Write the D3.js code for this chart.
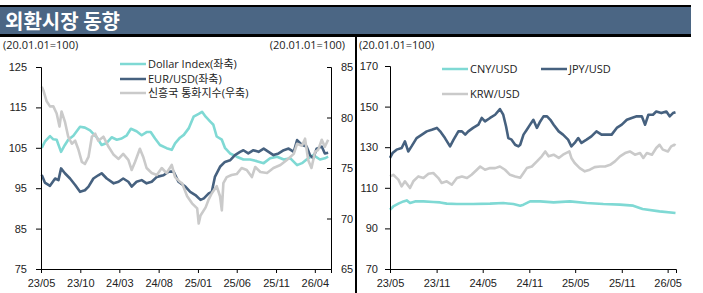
<!DOCTYPE html>
<html>
<head>
<meta charset="utf-8">
<script src="https://cdn.jsdelivr.net/npm/d3@7"></script>
<style>
  body { margin: 0; background: #fff; }
  svg { display: block; font-family: "Open Sans", "Noto Sans CJK KR", sans-serif; }
  .tick text { font-size: 11px; fill: #222; }
  .note { font-size: 11px; fill: #222; }
  .legend { font-size: 11px; fill: #222; }
</style>
</head>
<body>
<svg id="chart" width="703" height="293"></svg>
<script>
// left panel (left axis: Dollar Index, EUR/USD; right axis: EM currency index)
const dollarIndex = [["2023-05-04",105],["2023-05-16",106.5],["2023-06-05",107.9],["2023-06-18",107.1],["2023-07-01",107],["2023-07-18",104],["2023-08-02",105.7],["2023-08-15",107],["2023-09-04",108],["2023-09-30",110.2],["2023-10-19",110],["2023-11-08",109.3],["2023-12-04",107.6],["2023-12-23",105.7],["2024-01-12",106.2],["2024-01-31",107.6],["2024-02-20",107],["2024-03-10",107.3],["2024-03-30",108.1],["2024-04-15",109.7],["2024-05-07",109.1],["2024-05-27",108.1],["2024-06-15",108.9],["2024-07-01",108.9],["2024-07-18",107.3],["2024-08-06",105.7],["2024-09-01",104.9],["2024-09-21",104.5],["2024-10-04",106.1],["2024-10-23",107.5],["2024-11-07",108.2],["2024-11-26",109.8],["2024-12-15",112.7],["2025-01-04",113.4],["2025-01-17",113.9],["2025-01-31",112.7],["2025-02-18",111.5],["2025-03-02",110.7],["2025-03-15",107.8],["2025-04-04",107],["2025-04-16",105],["2025-05-06",103.6],["2025-06-01",102.8],["2025-06-27",102.1],["2025-07-23",102.1],["2025-08-18",101.7],["2025-09-14",101.2],["2025-10-09",102.4],["2025-11-05",102.8],["2025-12-01",102.1],["2025-12-27",102.4],["2026-01-22",100.7],["2026-02-10",101.2],["2026-02-28",102.1],["2026-03-26",103.2],["2026-04-21",102.1],["2026-05-10",102.4],["2026-05-23",102.8]];
const eurUsd = [["2023-05-04",98.3],["2023-05-16",96.4],["2023-06-05",95.6],["2023-06-25",97.4],["2023-07-08",97.0],["2023-07-18",99.9],["2023-08-02",98.7],["2023-08-22",97.4],["2023-09-11",95.8],["2023-09-30",94.1],["2023-10-19",94.5],["2023-11-02",95.4],["2023-11-21",97.4],["2023-12-10",98.2],["2023-12-23",98.7],["2024-01-12",97.4],["2024-02-08",96.2],["2024-02-27",96.6],["2024-03-16",97.4],["2024-04-05",96.6],["2024-04-18",95.4],["2024-05-07",96.6],["2024-05-27",97],["2024-06-15",96.2],["2024-07-05",96.6],["2024-07-25",97.8],["2024-08-20",98.2],["2024-09-09",99.1],["2024-09-28",99.1],["2024-10-17",96.6],["2024-11-13",95.4],["2024-12-02",94.1],["2024-12-22",93.3],["2025-01-11",92.1],["2025-01-24",92.5],["2025-02-12",93.7],["2025-02-24",94.1],["2025-03-08",97.8],["2025-03-28",100.3],["2025-04-16",101.5],["2025-05-06",101.9],["2025-05-25",103.2],["2025-06-14",104],["2025-06-27",104.4],["2025-07-16",103.6],["2025-08-05",104.4],["2025-08-25",104],["2025-09-14",104.8],["2025-10-03",104],["2025-10-22",103.2],["2025-11-11",103.6],["2025-12-01",104.4],["2025-12-20",104.8],["2026-01-09",104],["2026-01-22",106.9],["2026-02-10",105.7],["2026-02-28",105.3],["2026-03-13",103.2],["2026-03-26",102.4],["2026-04-08",104.8],["2026-04-28",105.3],["2026-05-10",103.6],["2026-05-23",103.8]];
const emCurrency = [["2023-05-04",83.05],["2023-05-10",82.7],["2023-05-23",81.6],["2023-06-05",81.1],["2023-06-18",81.1],["2023-07-01",80.4],["2023-07-12",79.1],["2023-07-20",80.6],["2023-08-02",79.6],["2023-08-15",78.1],["2023-08-29",77.4],["2023-09-11",77.7],["2023-09-24",76.8],["2023-10-07",75.6],["2023-10-19",75.4],["2023-11-02",76.1],["2023-11-15",78.1],["2023-11-28",78.4],["2023-12-10",77.7],["2023-12-30",78.1],["2024-01-19",77.1],["2024-02-08",76.3],["2024-02-27",75.9],["2024-03-16",76.4],["2024-04-05",75.8],["2024-04-18",74.8],["2024-05-01",75.6],["2024-05-20",76.9],["2024-06-02",76.1],["2024-06-15",75.0],["2024-07-05",74.5],["2024-07-25",74.3],["2024-08-13",75],["2024-09-01",74.5],["2024-09-21",75.3],["2024-10-04",74.1],["2024-10-24",73.6],["2024-10-31",73.5],["2024-11-20",72.2],["2024-12-09",71.5],["2024-12-29",71.0],["2025-01-04",69.5],["2025-01-11",70.3],["2025-01-31",71.1],["2025-02-12",71.9],["2025-02-24",72.5],["2025-03-15",73.2],["2025-03-28",72.2],["2025-04-04",70.8],["2025-04-10",73.5],["2025-04-23",74.1],["2025-05-12",74.3],["2025-06-01",74.4],["2025-06-20",75],["2025-07-10",74.8],["2025-07-30",74.1],["2025-08-12",75.1],["2025-09-01",74.6],["2025-09-27",74.5],["2025-10-22",75],["2025-11-18",75.3],["2025-12-13",75.8],["2026-01-09",76.4],["2026-01-22",77.4],["2026-02-10",77.2],["2026-02-22",77.9],["2026-03-06",75.8],["2026-03-19",75],["2026-04-02",76.6],["2026-04-14",76.8],["2026-04-28",77.8],["2026-05-10",77.1],["2026-05-23",77.8]];

// right panel
const cnyUsd = [["2023-05-01",99.2],["2023-05-14",100.8],["2023-06-03",102.2],["2023-06-23",103.3],["2023-07-06",103.8],["2023-07-19",102.5],["2023-08-08",103.3],["2023-09-10",103.3],["2023-10-19",103],["2023-11-15",102.8],["2023-12-11",102.2],["2024-01-20",102.0],["2024-03-24",102.0],["2024-05-30",102.2],["2024-07-21",102.5],["2024-08-30",102.0],["2024-09-26",101.2],["2024-10-09",101.7],["2024-11-04",103.3],["2024-12-14",103.3],["2025-02-05",102.8],["2025-04-10",103.3],["2025-06-15",102.5],["2025-08-20",102.0],["2025-10-25",101.7],["2025-12-16",101.2],["2026-01-22",99.6],["2026-03-30",98.4],["2026-06-01",97.6]];
const jpyUsd = [["2023-05-01",124.7],["2023-05-11",127.1],["2023-05-27",128.8],["2023-06-16",129.6],["2023-06-29",132.9],["2023-07-12",127.9],["2023-07-25",130.4],["2023-08-14",134.5],["2023-09-04",136.2],["2023-09-23",137.8],["2023-10-13",138.6],["2023-11-02",139.5],["2023-11-15",137.8],["2023-12-04",134.5],["2023-12-24",130.4],["2024-01-07",133.7],["2024-01-26",137.8],["2024-02-09",137.8],["2024-02-22",136.2],["2024-03-05",137.8],["2024-03-24",139.5],["2024-04-14",141.1],["2024-04-27",144.4],["2024-05-10",142.7],["2024-05-30",144.4],["2024-06-19",146.0],["2024-07-08",148.8],["2024-07-21",146],["2024-08-01",140.3],["2024-08-10",134.5],["2024-08-23",133.7],["2024-09-06",131.2],["2024-09-19",130.4],["2024-09-26",131.2],["2024-10-09",136.2],["2024-10-22",138.6],["2024-11-04",141.1],["2024-11-17",143.5],["2024-12-01",139.5],["2024-12-14",142.7],["2024-12-27",145.2],["2025-01-10",145.2],["2025-01-23",143.5],["2025-02-05",141.1],["2025-02-25",137.8],["2025-03-14",136.2],["2025-04-03",133.7],["2025-04-16",130.4],["2025-04-29",132.1],["2025-05-13",134.5],["2025-05-26",132.1],["2025-06-15",133.7],["2025-07-04",135.3],["2025-07-24",137.8],["2025-08-13",136.2],["2025-09-03",136.2],["2025-09-22",136.2],["2025-10-12",139.5],["2025-11-01",141.1],["2025-11-21",143.5],["2025-12-10",144.4],["2025-12-30",145.2],["2026-01-19",145.2],["2026-02-01",141.1],["2026-02-14",146.0],["2026-03-04",146],["2026-03-17",147.6],["2026-04-06",146.8],["2026-04-26",147.6],["2026-05-09",145.2],["2026-05-22",146.8],["2026-06-01",147.2]];
const krwUsd = [["2023-05-01",115.6],["2023-05-14",116.4],["2023-06-03",114.0],["2023-06-16",110.7],["2023-06-29",113.2],["2023-07-19",109.9],["2023-08-01",113.2],["2023-08-21",115.6],["2023-09-10",114.8],["2023-09-30",116.9],["2023-10-19",117.3],["2023-11-08",114.8],["2023-11-21",112.4],["2023-12-11",113.2],["2023-12-31",111.5],["2024-01-20",114.8],["2024-02-09",115.6],["2024-02-29",114.8],["2024-03-18",116.4],["2024-04-08",118.9],["2024-04-21",120.5],["2024-05-10",118.9],["2024-05-30",119.7],["2024-06-19",119.7],["2024-07-08",120.5],["2024-07-28",118.9],["2024-08-17",116.4],["2024-09-06",115.6],["2024-09-26",115.0],["2024-10-09",117.3],["2024-10-22",119.7],["2024-11-11",120.5],["2024-12-01",123.0],["2024-12-20",125.5],["2025-01-03",127.9],["2025-01-16",125.5],["2025-02-05",126.3],["2025-02-25",124.7],["2025-03-14",126.3],["2025-04-08",127.9],["2025-04-16",124.7],["2025-04-29",122.2],["2025-05-19",119.7],["2025-06-08",118.1],["2025-06-28",118.9],["2025-07-17",120.2],["2025-08-07",120.5],["2025-08-27",120.5],["2025-09-16",121.3],["2025-10-05",123.0],["2025-10-25",125.5],["2025-11-14",127.1],["2025-12-03",127.9],["2025-12-23",126.3],["2026-01-12",127.1],["2026-01-25",124.7],["2026-02-08",127.1],["2026-02-28",126.3],["2026-03-17",129.6],["2026-03-30",131.2],["2026-04-12",128.8],["2026-05-02",127.9],["2026-05-15",130.4],["2026-05-28",131.2],["2026-06-01",130.8]];

// ticks
const leftDateTicks = ["2023-05-01","2023-10-01","2024-03-01","2024-08-01","2025-01-01","2025-06-01","2025-11-01","2026-04-01"];
const rightDateTicks = ["2023-05-01","2023-11-01","2024-05-01","2024-11-01","2025-05-01","2025-11-01","2026-05-01"];
const leftYTicks = [75, 85, 95, 105, 115, 125];
const leftY2Ticks = [65, 70, 75, 80, 85];
const rightYTicks = [70, 90, 110, 130, 150, 170];
const dateDomain = ["2023-05-01", "2026-06-03"];

const parse = d3.timeParse("%Y-%m-%d");
const fmt = d3.timeFormat("%y/%m");

const C_TEAL = "#7fd9d4";
const C_NAVY = "#46617f";
const C_GRAY = "#cacaca";

const svg = d3.select('#chart');

// title bar
svg.append('rect').attr('x', 0).attr('y', 5).attr('width', 691).attr('height', 32).attr('fill', '#000');
svg.append('rect').attr('x', 0).attr('y', 7).attr('width', 691).attr('height', 27).attr('fill', '#4b6684');
svg.append('text')
    .attr('x', 5).attr('y', 29)
    .attr('fill', '#fff')
    .style('font-size', '20px')
    .style('font-weight', 'bold')
    .style('font-family', '"Noto Sans CJK KR", sans-serif')
    .text('외환시장 동향');

// separator
svg.append('rect').attr('x', 355).attr('y', 35).attr('width', 2).attr('height', 258).attr('fill', '#000');

// notes
svg.append('text').attr('class', 'note').attr('x', 3).attr('y', 49).text('(20.01.01=100)');
svg.append('text').attr('class', 'note').attr('x', 345).attr('y', 49).attr('text-anchor', 'end').text('(20.01.01=100)');
svg.append('text').attr('class', 'note').attr('x', 359).attr('y', 49).text('(20.01.01=100)');

function toPts(arr) {
    return arr.map(d => ({ date: parse(d[0]), value: d[1] }));
}

function styleAxis(g) {
    g.selectAll('.domain').attr('stroke', '#000');
    g.selectAll('.tick line').attr('stroke', '#000');
    g.selectAll('text').style('font-size', '11px').attr('fill', '#222');
}

function drawLine(g, arr, x, y, color) {
    const line = d3.line().x(d => x(d.date)).y(d => y(d.value));
    g.append('path')
        .datum(toPts(arr))
        .attr('fill', 'none')
        .attr('stroke', color)
        .attr('stroke-width', 2.6)
        .attr('stroke-linejoin', 'round')
        .attr('d', line);
}

function drawLegend(items) {
    items.forEach(it => {
        svg.append('line')
            .attr('x1', it.x).attr('x2', it.x + 26)
            .attr('y1', it.y).attr('y2', it.y)
            .attr('stroke', it.color).attr('stroke-width', 2.5);
        svg.append('text').attr('class', 'legend')
            .attr('x', it.x + 28).attr('y', it.y + 4)
            .text(it.label);
    });
}

function draw_left() {
    const x = d3.scaleTime().domain(dateDomain.map(parse)).range([41, 331]);
    const y = d3.scaleLinear().domain([75, 125]).range([269, 67]);
    const y2 = d3.scaleLinear().domain([65, 85]).range([269, 67]);
    const g = svg.append('g');

    drawLine(g, dollarIndex, x, y, C_TEAL);
    drawLine(g, eurUsd, x, y, C_NAVY);
    drawLine(g, emCurrency, x, y2, C_GRAY);

    g.append('g').attr('transform', 'translate(41,0)')
        .call(d3.axisLeft(y).tickValues(leftYTicks).tickSize(5).tickPadding(9))
        .call(styleAxis);
    g.append('g').attr('transform', 'translate(331,0)')
        .call(d3.axisRight(y2).tickValues(leftY2Ticks).tickSize(-4).tickPadding(10))
        .call(styleAxis);
    g.append('g').attr('transform', 'translate(0,269)')
        .call(d3.axisBottom(x).tickValues(leftDateTicks.map(parse)).tickFormat(fmt).tickSize(4).tickPadding(6))
        .call(styleAxis);

    drawLegend([
        { x: 120, y: 64, color: C_TEAL, label: 'Dollar Index(좌축)' },
        { x: 120, y: 79, color: C_NAVY, label: 'EUR/USD(좌축)' },
        { x: 120, y: 93, color: C_GRAY, label: '신흥국 통화지수(우축)' }
    ]);
}

function draw_right() {
    const x = d3.scaleTime().domain(dateDomain.map(parse)).range([390, 676]);
    const y = d3.scaleLinear().domain([70, 170]).range([269, 66]);
    const g = svg.append('g');

    drawLine(g, cnyUsd, x, y, C_TEAL);
    drawLine(g, jpyUsd, x, y, C_NAVY);
    drawLine(g, krwUsd, x, y, C_GRAY);

    g.append('g').attr('transform', 'translate(390,0)')
        .call(d3.axisLeft(y).tickValues(rightYTicks).tickSize(5).tickPadding(7))
        .call(styleAxis);
    g.append('g').attr('transform', 'translate(0,269)')
        .call(d3.axisBottom(x).tickValues(rightDateTicks.map(parse)).tickFormat(fmt).tickSize(4).tickPadding(6))
        .call(styleAxis);

    drawLegend([
        { x: 442, y: 69, color: C_TEAL, label: 'CNY/USD' },
        { x: 541, y: 69, color: C_NAVY, label: 'JPY/USD' },
        { x: 442, y: 94, color: C_GRAY, label: 'KRW/USD' }
    ]);
}

draw_left();
draw_right();
</script>
</body>
</html>
